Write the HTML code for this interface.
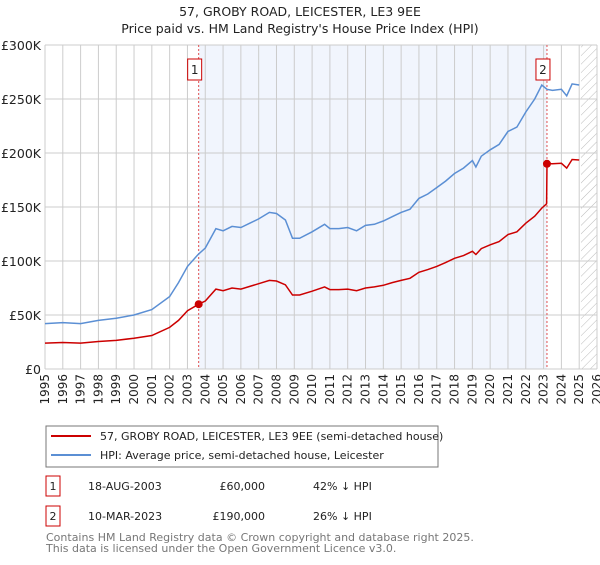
<!DOCTYPE html>
<html><head><meta charset="utf-8"><style>
body{margin:0;background:#fff;font-family:"Liberation Sans","DejaVu Sans",sans-serif;}
svg text{font-family:"DejaVu Sans","Liberation Sans",sans-serif;}
</style></head><body>
<svg id="chart" width="600" height="560" xmlns="http://www.w3.org/2000/svg">
<defs><pattern id="hatch" width="6" height="6" patternUnits="userSpaceOnUse" patternTransform="rotate(45)"><line x1="0" y1="0" x2="0" y2="6" stroke="#bbb" stroke-width="1"/></pattern></defs>
<text x="300" y="16" text-anchor="middle" font-size="12.5" fill="#222">57, GROBY ROAD, LEICESTER, LE3 9EE</text>
<text x="300" y="33" text-anchor="middle" font-size="12.5" fill="#222">Price paid vs. HM Land Registry's House Price Index (HPI)</text>
<g id="plot"></g>
<g>
<rect x="46" y="426" width="392" height="41" fill="#fff" stroke="#777"/>
<line x1="51" y1="436" x2="91" y2="436" stroke="#cc0000" stroke-width="2"/>
<text x="100" y="440" font-size="11" fill="#222">57, GROBY ROAD, LEICESTER, LE3 9EE (semi-detached house)</text>
<line x1="51" y1="455" x2="91" y2="455" stroke="#5b8fd4" stroke-width="2"/>
<text x="100" y="459" font-size="11" fill="#222">HPI: Average price, semi-detached house, Leicester</text>
</g>
<g font-size="11" fill="#222">
<rect x="46" y="476" width="14" height="20" fill="#fff" stroke="#cc0000"/><text x="53" y="490" text-anchor="middle">1</text>
<text x="88" y="490">18-AUG-2003</text><text x="265" y="490" text-anchor="end">£60,000</text><text x="313" y="490">42% ↓ HPI</text>
<rect x="46" y="506" width="14" height="20" fill="#fff" stroke="#cc0000"/><text x="53" y="520" text-anchor="middle">2</text>
<text x="88" y="520">10-MAR-2023</text><text x="265" y="520" text-anchor="end">£190,000</text><text x="313" y="520">26% ↓ HPI</text>
</g>
<text x="46" y="541" font-size="11" fill="#777">Contains HM Land Registry data © Crown copyright and database right 2025.</text>
<text x="46" y="552" font-size="11" fill="#777">This data is licensed under the Open Government Licence v3.0.</text>
</svg>
<script>
const hpiYears=[1995,1996,1997,1998,1999,2000,2001,2002,2002.5,2003,2003.6,2004,2004.6,2005,2005.5,2006,2006.5,2007,2007.6,2008,2008.5,2008.9,2009.3,2010,2010.7,2011,2011.5,2012,2012.5,2013,2013.5,2014,2014.5,2015,2015.5,2016,2016.5,2017,2017.5,2018,2018.5,2019,2019.2,2019.5,2020,2020.5,2021,2021.5,2022,2022.5,2022.9,2023.19,2023.5,2024,2024.3,2024.6,2025];
const hpiValues=[42,43,42,45,47,50,55,67,80,95,106,112,130,128,132,131,135,139,145,144,138,121,121,127,134,130,130,131,128,133,134,137,141,145,148,158,162,168,174,181,186,193,187,197,203,208,220,224,238,250,263,259,258,259,253,264,263];
const priceYears=[1995,1996,1997,1998,1999,2000,2001,2002,2002.5,2003,2003.63,2004,2004.6,2005,2005.5,2006,2006.5,2007,2007.6,2008,2008.5,2008.9,2009.3,2010,2010.7,2011,2011.5,2012,2012.5,2013,2013.5,2014,2014.5,2015,2015.5,2016,2016.5,2017,2017.5,2018,2018.5,2019,2019.2,2019.5,2020,2020.5,2021,2021.5,2022,2022.5,2022.9,2023.17,2023.19,2023.5,2024,2024.3,2024.6,2025];
const priceValues=[24,24.5,24,25.5,26.5,28.5,31,38.5,45,54,60,63,74,72.5,75,74,76.5,79,82,81.5,78,68.5,68.5,72,76,73.5,73.5,74,72.5,75,76,77.5,80,82,84,89.5,92,95,98.5,102.5,105,109,106,111.5,115,118,124.5,127,135,141.5,149,153,190,190,190.5,186,194,193.5];
const saleYears=[2003.63,2023.19];
const saleValues=[60,190];
const saleLabels=["1","2"];
const yTicks=[0,50,100,150,200,250,300];
const yTickLabels=["£0","£50K","£100K","£150K","£200K","£250K","£300K"];
const xTicks=[1995,1996,1997,1998,1999,2000,2001,2002,2003,2004,2005,2006,2007,2008,2009,2010,2011,2012,2013,2014,2015,2016,2017,2018,2019,2020,2021,2022,2023,2024,2025,2026];

const X0=45,X1=597,Y0=369,Y1=45;
const xs=y=>X0+(y-1995)*(X1-X0)/31;
const ys=v=>Y0-v*(Y0-Y1)/300;
const NS="http://www.w3.org/2000/svg";
const g=document.getElementById('plot');
function mk(t,a){const e=document.createElementNS(NS,t);for(const k in a)e.setAttribute(k,a[k]);g.appendChild(e);return e;}
let e=mk('rect',{x:xs(saleYears[0]),y:Y1,width:xs(saleYears[1])-xs(saleYears[0]),height:Y0-Y1,fill:'#f1f5fd'});


e=mk('rect',{x:xs(2025.1),y:Y1,width:X1-xs(2025.1),height:Y0-Y1,fill:'url(#hatch)'});


xTicks.forEach(t=>{
 e=mk('line',{x1:xs(t),y1:Y1,x2:xs(t),y2:Y0,stroke:'#ccc','stroke-width':1});
 
 
 const lx=xs(t)+4, ly=Y0+5;
 e=mk('text',{x:lx,y:ly,'text-anchor':'end','font-size':12,fill:'#222',transform:`rotate(-90 ${lx} ${ly})`});
 e.textContent=t;
 
 
});
yTicks.forEach((t,i)=>{
 e=mk('line',{x1:X0,y1:ys(t),x2:X1,y2:ys(t),stroke:'#ccc','stroke-width':1});
 
 
 e=mk('text',{x:X0-4,y:ys(t)+5,'text-anchor':'end','font-size':12.5,fill:'#222'});
 e.textContent=yTickLabels[i];
 
 
});
saleYears.forEach((s,i)=>{
 e=mk('line',{x1:xs(s),y1:Y1,x2:xs(s),y2:Y0,stroke:'#e05050','stroke-width':1,'stroke-dasharray':'2,2'});
 
 
 e=mk('rect',{x:xs(s)-11,y:59,width:14,height:21,fill:'#fff',stroke:'#cc0000'});
 
 
 e=mk('text',{x:xs(s)-4,y:74,'text-anchor':'middle','font-size':12,fill:'#222'});
 e.textContent=saleLabels[i];
 
 
});
e=mk('path',{d:hpiYears.map((y,i)=>(i?'L':'M')+xs(y).toFixed(1)+','+ys(hpiValues[i]).toFixed(1)).join(''),fill:'none',stroke:'#5b8fd4','stroke-width':1.5});


e=mk('path',{d:priceYears.map((y,i)=>(i?'L':'M')+xs(y).toFixed(1)+','+ys(priceValues[i]).toFixed(1)).join(''),fill:'none',stroke:'#cc0000','stroke-width':1.5});


saleYears.forEach((s,i)=>{
 e=mk('circle',{cx:xs(s),cy:ys(saleValues[i]),r:4,fill:'#cc0000'});
 
 
});
</script>
</body></html>
